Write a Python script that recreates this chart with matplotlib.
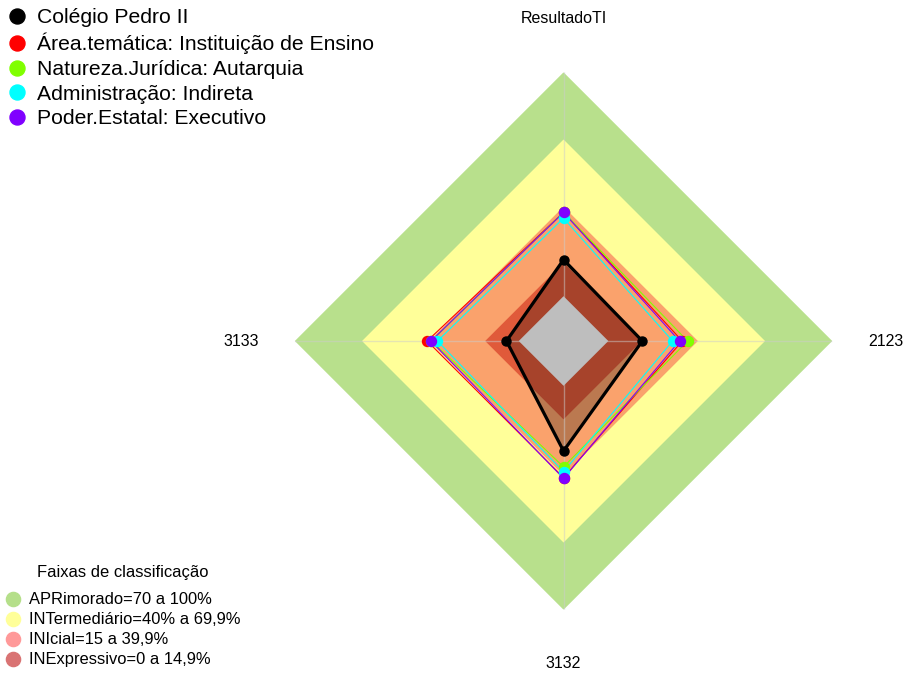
import numpy as np
import matplotlib.pyplot as plt
from matplotlib.lines import Line2D

plt.rcParams['font.family'] = ['Liberation Sans', 'DejaVu Sans']

# eixos do radar (sentido horário a partir do topo)
eixos = ["ResultadoTI", "2123", "3132", "3133"]

nomes = [
    "Colégio Pedro II",
    "Área.temática: Instituição de Ensino",
    "Natureza.Jurídica: Autarquia",
    "Administração: Indireta",
    "Poder.Estatal: Executivo",
]
pedro_ii = [16.3, 15.2, 29.1, 5.5]
area_tematica = [37.5, 33.0, 41.0, 40.9]
natureza_juridica = [37.5, 35.4, 36.2, 39.0]
administracao = [34.9, 28.7, 38.4, 36.3]
poder_estatal = [37.4, 31.8, 41.4, 39.2]
cores = ["black", "#FF0000", "#80FF00", "#00FFFF", "#8000FF"]

# faixas de classificação
faixas = [
    "APRimorado=70 a 100%",
    "INTermediário=40% a 69,9%",
    "INIcial=15 a 39,9%",
    "INExpressivo=0 a 14,9%",
]
limites = [100, 70, 40, 15]
cores_faixas = ["#B8E08C", "#FFFF99", "#FAA26C", "#E05A3A"]
cores_legenda = ["#B5DF8A", "#FFFF99", "#FF9999", "#D97373"]

fig = plt.figure(figsize=(9.05, 6.73), dpi=100)
ax = fig.add_axes([0.3258, 0.0940, 0.5938, 0.7986], projection="polar")
ax.set_theta_zero_location("N")
ax.set_theta_direction(-1)
ax.set_ylim(-20, 100)
ax.set_axis_off()

ang = np.linspace(0, 2 * np.pi, len(eixos), endpoint=False)
ang_f = np.append(ang, ang[0])

def fechar(v):
    return np.append(v, v[0])

for lim, cor in zip(limites, cores_faixas):
    ax.fill(ang_f, fechar(np.full(len(eixos), lim)), color=cor, lw=0, zorder=1)

ax.fill(ang_f, fechar(pedro_ii), color="black", alpha=0.25, lw=0, zorder=2)

for a in ang:
    ax.plot([a, a], [-20, 100], color="#cccccc", alpha=0.5, lw=1, zorder=3)

ax.fill(ang_f, fechar(np.zeros(len(eixos))), color="#BEBEBE", lw=0, zorder=4)

todas = [pedro_ii, area_tematica, natureza_juridica, administracao, poder_estatal]
handles = []
for i, (vals, cor) in enumerate(zip(todas, cores)):
    lw = 2.3 if i == 0 else 0.8
    ax.plot(ang_f, fechar(vals), color=cor, lw=lw, zorder=5 + i)
    ax.plot(ang, vals, "o", color=cor, ms=6.5 if i == 0 else 7.2, zorder=10 + i)
    handles.append(Line2D([], [], marker="o", ls="", color=cor, markersize=10.8))

for a, nome in zip(ang, eixos):
    ax.text(a, 124, nome, ha="center", va="center", fontsize=11.5)

fig.legend(handles, nomes, loc="upper left",
           bbox_to_anchor=(6 / 905, 1 - 8 / 673), bbox_transform=fig.transFigure,
           frameon=False, fontsize=15.2, handlelength=1.0, handletextpad=0.48,
           labelspacing=0.27, borderpad=0, borderaxespad=0)

h2 = [Line2D([], [], marker="o", ls="", color=c, markersize=10.2) for c in cores_legenda]
fig.legend(h2, faixas, loc="upper left",
           bbox_to_anchor=(4.5 / 905, 1 - 592.5 / 673), bbox_transform=fig.transFigure,
           frameon=False, fontsize=11.9, handlelength=1.0, handletextpad=0.47,
           labelspacing=0.30, borderpad=0, borderaxespad=0)
fig.text(123 / 905, 1 - 572 / 673, "Faixas de classificação", ha="center", va="center",
         fontsize=11.9)

fig.savefig("out.png", dpi=100)
